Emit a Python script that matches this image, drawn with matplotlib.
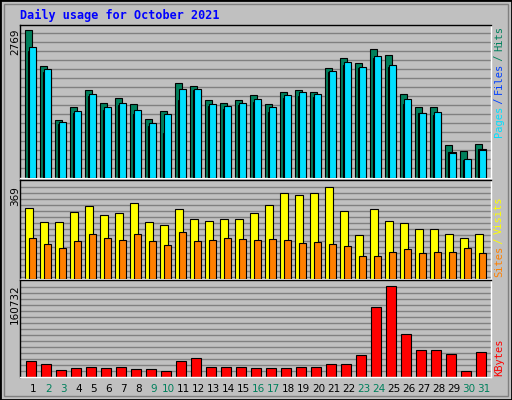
import matplotlib
matplotlib.use('Agg')
import matplotlib.pyplot as plt
from matplotlib.patches import Rectangle
import numpy as np

days = list(range(1, 32))
weekend = [2, 3, 9, 10, 16, 17, 23, 24, 30, 31]

hits = [2769, 2092, 1078, 1322, 1641, 1397, 1491, 1378, 1096, 1247, 1773, 1717, 1453, 1397, 1453, 1547,
        1378, 1604, 1641, 1604, 2055, 2243, 2149, 2412, 2299, 1566, 1322, 1322, 626, 514, 645]
files = [2450, 2036, 1040, 1247, 1566, 1322, 1397, 1266, 1021, 1190, 1660, 1660, 1378, 1341, 1397, 1472,
         1322, 1547, 1604, 1566, 1999, 2168, 2074, 2280, 2111, 1472, 1209, 1228, 476, 363, 533]
pages = [2374, 1980, 1002, 1209, 1529, 1266, 1360, 1190, 965, 833, 1453, 1641, 1341, 1284, 1360, 1416,
         1228, 1491, 1529, 1510, 1980, 2111, 2055, 2243, 2074, 1378, 1209, 1172, 495, 345, 551]
visits = [285, 229, 229, 269, 293, 257, 265, 305, 229, 217, 281, 241, 233, 241, 241, 265,
          297, 345, 337, 345, 369, 273, 176, 281, 233, 225, 201, 201, 180, 164, 180]
sites = [164, 140, 124, 152, 180, 164, 156, 180, 152, 136, 189, 152, 156, 164, 160, 156,
         160, 156, 144, 148, 140, 132, 92, 92, 108, 120, 104, 108, 108, 124, 104]
kbytes = [28744, 23464, 12905, 16425, 18185, 16425, 18185, 14665, 14665, 11145, 28744, 34023, 18185,
          18185, 18185, 16425, 16425, 16425, 18185, 18185, 23464, 23464, 39302, 123773, 160732,
          76258, 48101, 48101, 41062, 11145, 44581]

C_HITS = '#00805c'
C_FILES = '#0040ff'
C_PAGES = '#00e0ff'
C_VISITS = '#ffff00'
C_SITES = '#ff8000'
C_KB = '#ff0000'
BG = '#c0c0c0'
W, H = 512, 400

fig = plt.figure(figsize=(W / 100, H / 100), dpi=100)
fig.patch.set_facecolor(BG)
# outer bevel
fig.patches.append(Rectangle((0, 0), 1, 1, transform=fig.transFigure, fill=False,
                             edgecolor='black', linewidth=2))
fig.patches.append(Rectangle((4 / W, 4 / H), 1 - 8 / W, 1 - 8 / H, transform=fig.transFigure,
                             fill=False, edgecolor='#808080', linewidth=1))

mono = 'DejaVu Sans Mono'
fig.text(20 / W, 1 - 15 / H, 'Daily usage for October 2021', color='#0000ff', family=mono,
         weight='bold', fontsize=8.5, va='center', ha='left')

x = np.array(days)
xlim = (0.6, 0.6 + 471 / 15)


def panel(top, bot, maxval, maxpix_frac):
    ax = fig.add_axes([20 / W, 1 - bot / H, 471 / W, (bot - top) / H])
    ax.set_facecolor(BG)
    ax.set_xlim(*xlim)
    ax.set_ylim(0, maxval / maxpix_frac)
    ax.set_xticks([])
    ax.set_yticks([])
    for s in ax.spines.values():
        s.set_color('black')
        s.set_linewidth(1)
    ax.spines['right'].set_color('white')
    ax.spines['bottom'].set_color('white')
    return ax


def grid(ax, fracs):
    for f in fracs:
        ax.axhline(f * ax.get_ylim()[1], color='#808080', linewidth=1, zorder=0)


# top panel: hits / files / pages
ax1 = panel(25, 178, 2769, 148 / 153)
grid(ax1, [(153 - 8 - 9 * k) / 153 for k in range(16)])
ax1.bar(x - 0.067, hits, width=0.47, align='edge', color=C_HITS, edgecolor='black', linewidth=0.8, zorder=2)
ax1.bar(x + 0.15, pages, width=0.5, align='edge', color=C_FILES, edgecolor='black', linewidth=0.8, zorder=3)
ax1.bar(x + 0.2, files, width=0.47, align='edge', color=C_PAGES, edgecolor='black', linewidth=0.8, zorder=4)

# middle panel: visits / sites
ax2 = panel(180, 279, 369, 92 / 99)
grid(ax2, [(99 - 7 - 6 * k) / 99 for k in range(16)])
ax2.bar(x - 0.067, visits, width=0.53, align='edge', color=C_VISITS, edgecolor='black', linewidth=0.8, zorder=2)
ax2.bar(x + 0.2, sites, width=0.47, align='edge', color=C_SITES, edgecolor='black', linewidth=0.8, zorder=3)

# bottom panel: kbytes
ax3 = panel(280, 377, 160732, 91 / 97)
grid(ax3, [(97 - 7 - 6 * k) / 97 for k in range(16)])
ax3.bar(x + 0.02, kbytes, width=0.67, align='edge', color=C_KB, edgecolor='black', linewidth=0.8, zorder=2)

# day labels
for d in days:
    xf = (20 + (d + 0.5 - xlim[0]) * 15) / W
    fig.text(xf, 1 - 389 / H, str(d), ha='center', va='center', fontsize=7.5,
             color=C_HITS if d in weekend else 'black')

# max labels on the left
fig.text(15 / W, 1 - 42 / H, '2769', rotation=90, ha='center', va='center', fontsize=7.5, color='black')
fig.text(15 / W, 1 - 196 / H, '369', rotation=90, ha='center', va='center', fontsize=7.5, color='black')
fig.text(15 / W, 1 - 304 / H, '160732', rotation=90, ha='center', va='center', fontsize=7.5, color='black')


def side_label(parts, ybottom):
    # parts read bottom to top
    y = ybottom
    for txt, col in parts:
        fig.text(499 / W, y / H, txt, rotation=90, ha='center', va='bottom', family=mono,
                 fontsize=7.5, color=col)
        y += len(txt) * 5.4


side_label([('Pages', C_PAGES), (' / ', C_FILES), ('Files', C_FILES), (' / ', C_HITS), ('Hits', C_HITS)], 400 - 137)
side_label([('Sites', C_SITES), (' / ', C_VISITS), ('Visits', C_VISITS)], 400 - 277)
side_label([('KBytes', C_KB)], 400 - 376)

fig.savefig('out.png', dpi=100, facecolor=BG)
